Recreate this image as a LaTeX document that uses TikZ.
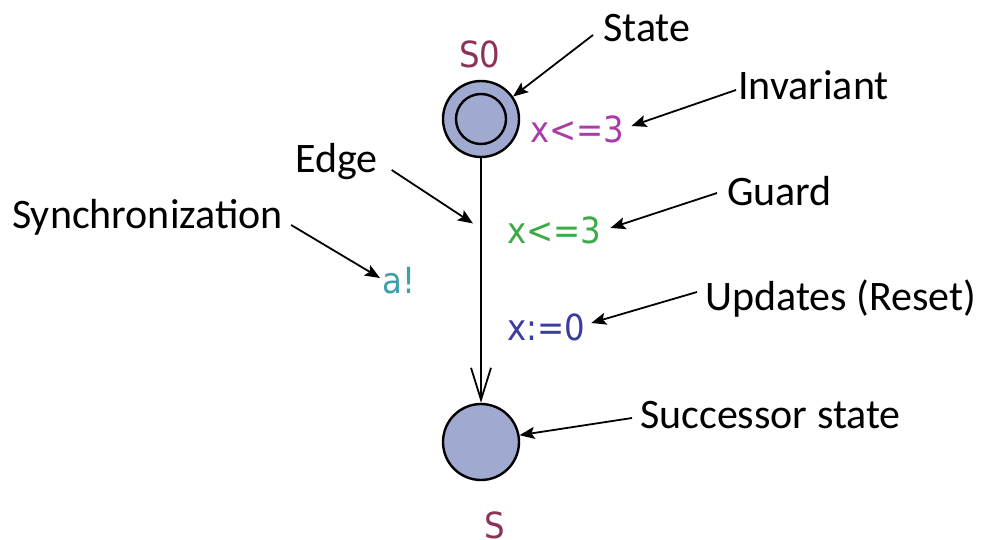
\documentclass[tikz,border=0pt]{standalone}
\usepackage{fontspec}
\setmainfont{Carlito}
\newfontfamily\upfont{DejaVu Sans Condensed}
\usetikzlibrary{arrows.meta,calc}
\definecolor{locfill}{RGB}{160,170,208}
\definecolor{namecol}{RGB}{140,50,90}
\definecolor{invcol}{RGB}{170,60,170}
\definecolor{grdcol}{RGB}{60,170,70}
\definecolor{synccol}{RGB}{60,160,170}
\definecolor{updcol}{RGB}{60,60,160}
\begin{document}
\begin{tikzpicture}[x=1pt,y=-1pt,
  lbl/.style={inner sep=0pt,anchor=base west,font=\fontsize{42}{50}\selectfont},
  ulbl/.style={inner sep=0pt,anchor=base west,font=\upfont\fontsize{36}{42}\selectfont},
  loc/.style={circle,draw=black,line width=2.4pt,fill=locfill,minimum size=76pt,inner sep=0pt},
  ptr/.style={line width=1.8pt,-{Stealth[length=15pt,width=12pt,inset=3pt]}},
  trans/.style={line width=2.2pt,-{Straight Barb[length=32pt,width=20pt,line width=1.8pt]}}]
\useasboundingbox (0,0) rectangle (982,540);
\fill[white] (0,0) rectangle (982,540);
% locations
\node[loc] (s0) at (481,119) {};
\node[circle,draw=black,line width=2.4pt,minimum size=50pt,inner sep=0pt] (s0in) at (s0.center) {};
\node[loc] (s) at (481,442) {};
\draw[trans] (s0.south) -- (s.north);
% UPPAAL labels
\node[ulbl,text=namecol] (s0lbl) at (459,68) {S0};
\node[ulbl,text=invcol] (inv) at (530,143) {x<=3};
\node[ulbl,text=grdcol] (grd) at (507,243) {x<=3};
\node[ulbl,text=synccol] (syn) at (382,293) {a!};
\node[ulbl,text=updcol] (upd) at (507,340) {x:=0};
\node[ulbl,text=namecol] (slbl) at (484,538) {S};
% annotations
\node[lbl] (tState) at (603,42) {State};
\node[lbl] (tInv) at (738,100) {Invariant};
\node[lbl] (tGuard) at (727,205) {Guard};
\node[lbl] (tUpd) at (705,310) {Updates (Reset)};
\node[lbl] (tSucc) at (640,428) {Successor state};
\node[lbl] (tEdge) at (295,173) {Edge};
\node[lbl] (tSync) at (12,228) {Synchronization};
% pointers
\draw[ptr] ($(tState.base west)+(-10,-7)$) -- (s0.35);
\draw[ptr] ($(tInv.base west)+(-2,-10)$) -- ($(inv.base east)+(7,-17)$);
\draw[ptr] ($(tEdge.base east)+(14,-3)$) -- ($(s0.south)!0.267!(s.north)+(-8,0)$);
\draw[ptr] ($(tSync.base east)+(8,-3)$) -- ($(syn.base west)+(-2,-15)$);
\draw[ptr] ($(tGuard.base west)+(-10,-12)$) -- ($(grd.base east)+(9,-15)$);
\draw[ptr] ($(tUpd.base west)+(-8,-18)$) -- ($(upd.base east)+(6,-17)$);
\draw[ptr] ($(tSucc.base west)+(-8,-10)$) -- (s.10);
\end{tikzpicture}
\end{document}
